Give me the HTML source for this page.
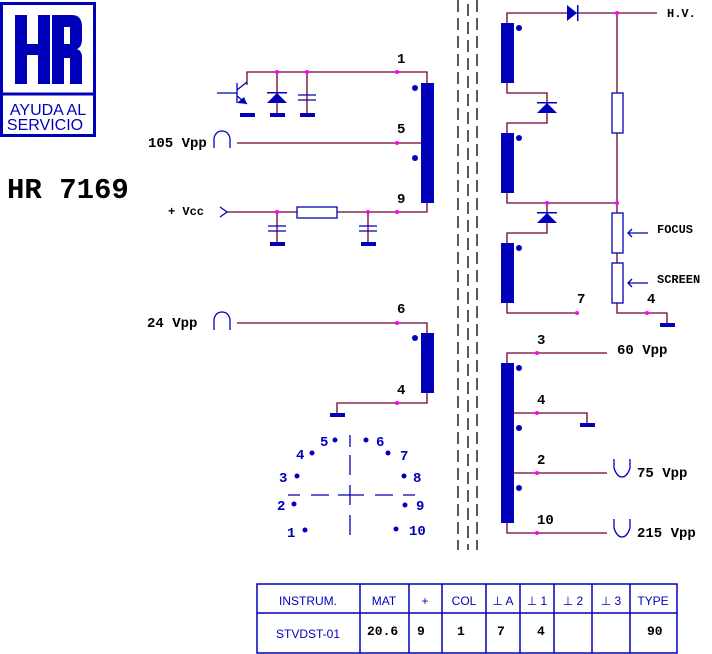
<!DOCTYPE html><html><head><style>body{margin:0;background:#fff}svg{display:block}</style></head><body>
<svg width="712" height="654" viewBox="0 0 712 654" xmlns="http://www.w3.org/2000/svg">
<g fill="none" stroke="#0000bb" stroke-width="3"><rect x="1.5" y="3.5" width="93" height="132"/><line x1="1" y1="94" x2="95" y2="94"/></g>
<g fill="#0000bb"><rect x="15" y="15" width="12" height="69"/><rect x="38" y="15" width="12" height="69"/><rect x="27" y="44" width="11" height="11"/>
<path d="M52 15h20q10 0 10 12v12q0 8-5 10q5 2 5 8v27h-12v-26h-6v26h-12z M64 27v17h6v-17z" fill-rule="evenodd"/></g>
<text x="48" y="115" font-family="Liberation Sans,sans-serif" font-size="16" fill="#0000bb" text-anchor="middle">AYUDA AL</text>
<text x="45" y="130" font-family="Liberation Sans,sans-serif" font-size="16" fill="#0000bb" text-anchor="middle">SERVICIO</text>
<text x="7" y="198" font-family="Liberation Mono,monospace" font-weight="bold" font-size="29">HR 7169</text>
<g stroke="#000" stroke-width="1.3" stroke-dasharray="12,6"><line x1="458" y1="0" x2="458" y2="550"/><line x1="468" y1="4" x2="468" y2="550"/><line x1="477" y1="0" x2="477" y2="550"/></g>
<g fill="none" stroke="#700030" stroke-width="1.3">
<path d="M247 85V72H427V84"/><path d="M237 143H427"/><path d="M227 212H297M337 212H427V203"/>
<path d="M277 72V115M307 72V115M277 212V244M368 212V244"/>
<path d="M237 323H427V333M427 393V403H337V413"/>
<path d="M507 23V13H657M507 83V93H547V123H507V133M507 193V203H617M547 203V233H507V243M507 303V313H577"/>
<path d="M617 13V313H667V323"/>
<path d="M507 363V353H607M507 413H587V423M507 473H607M507 523V533H607"/>
</g>
<g fill="none" stroke="#0000bb" stroke-width="1.3">
<path d="M217 93H237M237 83V103M237 90L247 82M237 96L247 104"/>
<rect x="297" y="207" width="40" height="11" fill="#fff"/>
<rect x="612" y="93" width="11" height="40" fill="#fff"/><rect x="612" y="213" width="11" height="40" fill="#fff"/><rect x="612" y="263" width="11" height="40" fill="#fff"/>
<path d="M648 233H628M632 229L628 233L632 237M648 283H628M632 279L628 283L632 287"/>
<path d="M214 148V138Q216 131 222 131Q228 131 230 138V148M214 330V319Q216 312 222 312Q228 312 230 319V330"/>
<path d="M220 207L227 212L220 217"/>
<path d="M614 459V468Q617 477 622 477Q627 477 630 468V459M614 519V528Q617 537 622 537Q627 537 630 528V519"/>
<path d="M298 95H316M298 100H316M268 226H286M268 231H286M359 226H377M359 231H377"/>
<path d="M350 435V447M350 455V475M350 485V505M350 515V535M288 495H300M311 495H329M338 495H364M375 495H393M403 495H415"/>
</g>
<g fill="#0000bb">
<rect x="421" y="83" width="13" height="120"/><rect x="421" y="333" width="13" height="60"/>
<rect x="501" y="23" width="13" height="60"/><rect x="501" y="133" width="13" height="60"/><rect x="501" y="243" width="13" height="60"/><rect x="501" y="363" width="13" height="160"/>
<circle cx="415" cy="88" r="3"/><circle cx="415" cy="158" r="3"/><circle cx="415" cy="338" r="3"/>
<circle cx="519" cy="28" r="3"/><circle cx="519" cy="138" r="3"/><circle cx="519" cy="248" r="3"/><circle cx="519" cy="368" r="3"/><circle cx="519" cy="428" r="3"/><circle cx="519" cy="488" r="3"/>
<rect x="240" y="113" width="15" height="4"/><rect x="270" y="113" width="15" height="4"/><rect x="300" y="113" width="15" height="4"/><rect x="270" y="242" width="15" height="4"/><rect x="361" y="242" width="15" height="4"/>
<rect x="330" y="413" width="15" height="4"/><rect x="660" y="323" width="15" height="4"/><rect x="580" y="423" width="15" height="4"/>
<path d="M237 103L247 104L244 97Z"/>
<path d="M267 103L277 93L287 103Z"/><rect x="267" y="92" width="20" height="1.5"/>
<path d="M537 113L547 103L557 113Z"/><rect x="537" y="102" width="20" height="1.5"/>
<path d="M537 223L547 213L557 223Z"/><rect x="537" y="212" width="20" height="1.5"/>
<path d="M567 5L577 13L567 21Z"/><rect x="577" y="5" width="1.5" height="16"/>
<circle cx="335" cy="440" r="2.5"/><circle cx="366" cy="440" r="2.5"/><circle cx="312" cy="453" r="2.5"/><circle cx="388" cy="453" r="2.5"/><circle cx="297" cy="476" r="2.5"/><circle cx="404" cy="476" r="2.5"/><circle cx="294" cy="504" r="2.5"/><circle cx="405" cy="505" r="2.5"/><circle cx="305" cy="530" r="2.5"/><circle cx="396" cy="529" r="2.5"/>
</g>
<g fill="#ff00ff">
<circle cx="277" cy="72" r="2"/><circle cx="307" cy="72" r="2"/><circle cx="397" cy="72" r="2"/><circle cx="397" cy="143" r="2"/><circle cx="277" cy="212" r="2"/><circle cx="368" cy="212" r="2"/><circle cx="397" cy="212" r="2"/>
<circle cx="397" cy="323" r="2"/><circle cx="397" cy="403" r="2"/><circle cx="617" cy="13" r="2"/><circle cx="547" cy="203" r="2"/><circle cx="617" cy="203" r="2"/><circle cx="577" cy="313" r="2"/><circle cx="647" cy="313" r="2"/>
<circle cx="537" cy="353" r="2"/><circle cx="537" cy="413" r="2"/><circle cx="537" cy="473" r="2"/><circle cx="537" cy="533" r="2"/>
</g>
<g font-family="Liberation Mono,monospace" font-weight="bold" font-size="14" fill="#000">
<text x="397" y="63">1</text><text x="397" y="133">5</text><text x="397" y="203">9</text><text x="397" y="313">6</text><text x="397" y="394">4</text>
<text x="148" y="147">105 Vpp</text><text x="168" y="215" font-size="12">+ Vcc</text><text x="147" y="327">24 Vpp</text>
<text x="667" y="17" font-size="12">H.V.</text><text x="657" y="233" font-size="12">FOCUS</text><text x="657" y="283" font-size="12">SCREEN</text>
<text x="577" y="303">7</text><text x="647" y="303">4</text>
<text x="537" y="344">3</text><text x="537" y="404">4</text><text x="537" y="464">2</text><text x="537" y="524">10</text>
<text x="617" y="354">60 Vpp</text><text x="637" y="477">75 Vpp</text><text x="637" y="537">215 Vpp</text>
</g>
<g font-family="Liberation Mono,monospace" font-weight="bold" font-size="14" fill="#0000bb">
<text x="320" y="446">5</text><text x="376" y="446">6</text><text x="296" y="459">4</text><text x="400" y="460">7</text><text x="279" y="482">3</text><text x="413" y="482">8</text><text x="277" y="510">2</text><text x="416" y="510">9</text><text x="287" y="537">1</text><text x="409" y="535">10</text>
</g>
<g fill="none" stroke="#0000bb" stroke-width="1.5">
<rect x="257" y="584" width="420" height="69"/><line x1="257" y1="613" x2="677" y2="613"/>
<path d="M360 584V653M409 584V653M442 584V653M486 584V653M520 584V653M554 584V653M592 584V653M630 584V653"/>
</g>
<g font-family="Liberation Sans,sans-serif" font-size="12" fill="#0000bb" text-anchor="middle">
<text x="308" y="605">INSTRUM.</text><text x="384" y="605">MAT</text><text x="425" y="605">+</text><text x="464" y="605">COL</text><text x="503" y="605">⊥ A</text><text x="537" y="605">⊥ 1</text><text x="573" y="605">⊥ 2</text><text x="611" y="605">⊥ 3</text><text x="653" y="605">TYPE</text>
<text x="308" y="638">STVDST-01</text>
</g>
<g font-family="Liberation Mono,monospace" font-weight="bold" font-size="13" fill="#000">
<text x="367" y="635">20.6</text><text x="417" y="635">9</text><text x="457" y="635">1</text><text x="497" y="635">7</text><text x="537" y="635">4</text><text x="647" y="635">90</text>
</g>
</svg></body></html>
